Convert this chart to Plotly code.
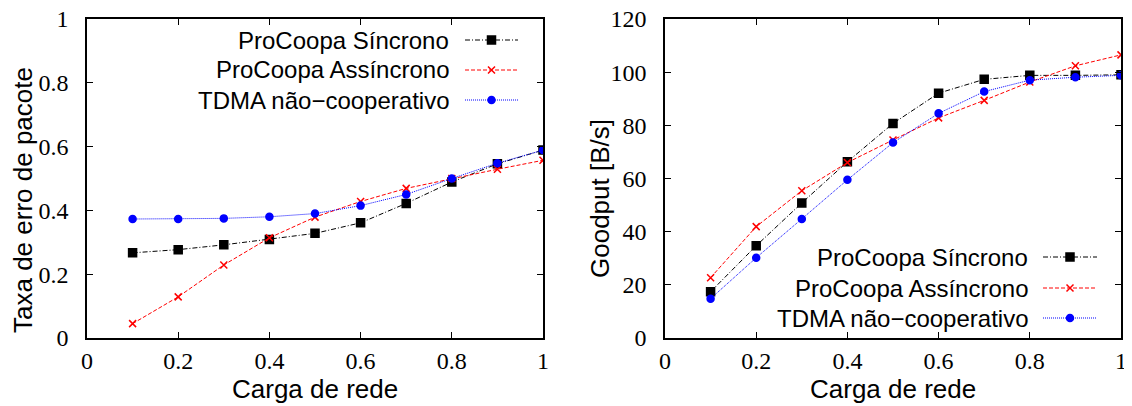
import plotly.graph_objects as go

# ---------------- data ----------------
carga = [0.1, 0.2, 0.3, 0.4, 0.5, 0.6, 0.7, 0.8, 0.9, 1.0]

per_sincrono = [0.267, 0.277, 0.292, 0.309, 0.328, 0.361, 0.422, 0.489, 0.546, 0.589]
per_assincrono = [0.045, 0.129, 0.229, 0.314, 0.379, 0.428, 0.469, 0.500, 0.529, 0.557]
per_tdma = [0.373, 0.373, 0.375, 0.380, 0.390, 0.415, 0.450, 0.500, 0.548, 0.589]

gp_sincrono = [17.4, 34.7, 50.8, 66.3, 80.7, 92.1, 97.3, 98.8, 98.8, 99.0]
gp_assincrono = [22.7, 41.9, 55.4, 66.0, 74.5, 82.8, 89.4, 96.3, 102.4, 106.5]
gp_tdma = [14.8, 30.2, 44.8, 59.5, 73.5, 84.5, 92.7, 97.0, 98.1, 98.8]

series_names = ["ProCoopa Síncrono", "ProCoopa Assíncrono", "TDMA não\u2212cooperativo"]

x_title = "Carga de rede"
y1_title = "Taxa de erro de pacote"
y2_title = "Goodput [B/s]"

x_ticks = [0, 0.2, 0.4, 0.6, 0.8, 1]
x_ticktext = ["0", "0.2", "0.4", "0.6", "0.8", "1"]
y1_ticks = [0, 0.2, 0.4, 0.6, 0.8, 1]
y1_ticktext = ["0", "0.2", "0.4", "0.6", "0.8", "1"]
y2_ticks = [0, 20, 40, 60, 80, 100, 120]
y2_ticktext = ["0", "20", "40", "60", "80", "100", "120"]

# ---------------- styles ----------------
styles = [
    dict(color="#000000", dash="5px,2px,1px,2px", symbol="square", size=8),
    dict(color="#ff0000", dash="4px,2px", symbol="x-thin-open", size=7),
    dict(color="#0000ff", dash="1px,1px", symbol="circle", size=7),
]

# The page body has an 8px margin, so the figure is laid out in page pixels minus 8.
OFF = 8
W, H = 1132 - OFF, 406 - OFF
ML, MT = 87 - OFF, 19 - OFF
MR = W - (1121 - OFF)
MB = H - (338 - OFF)
PW = W - ML - MR
PH = H - MT - MB

def px(x):
    return (x - OFF - ML) / PW

def py(y):
    return (H - MB - (y - OFF)) / PH

fig = go.Figure()

def add_series(xs, ys, st, xa, ya, name):
    fig.add_trace(go.Scatter(
        x=xs, y=ys, mode="lines+markers", name=name, showlegend=False,
        xaxis=xa, yaxis=ya,
        line=dict(color=st["color"], width=1, dash=st["dash"]),
        marker=dict(symbol=st["symbol"], size=st["size"], color=st["color"],
                    line=dict(color=st["color"], width=1.5)),
    ))

left_data = [per_sincrono, per_assincrono, per_tdma]
right_data = [gp_sincrono, gp_assincrono, gp_tdma]
for i in range(3):
    add_series(carga, left_data[i], styles[i], "x", "y", series_names[i])
for i in range(3):
    add_series(carga, right_data[i], styles[i], "x2", "y2", series_names[i])

# ---------------- legend (drawn gnuplot-style: text left of sample) ----------------
# x3/y3 overlay uses page-pixel units over the plotting area
leg_rows_left = [40, 70, 100]
leg_rows_right = [257, 288, 318]
for rows, text_x, x0, x1 in [(leg_rows_left, 451, 465, 518), (leg_rows_right, 1030, 1043, 1097)]:
    for i, yy in enumerate(rows):
        st = styles[i]
        fig.add_trace(go.Scatter(
            x=[x0, x1], y=[yy, yy], mode="lines", xaxis="x3", yaxis="y3",
            showlegend=False, hoverinfo="skip",
            line=dict(color=st["color"], width=1, dash=st["dash"]),
        ))
        fig.add_trace(go.Scatter(
            x=[(x0 + x1) / 2], y=[yy], mode="markers", xaxis="x3", yaxis="y3",
            showlegend=False, hoverinfo="skip",
            marker=dict(symbol=st["symbol"], size=st["size"], color=st["color"],
                        line=dict(color=st["color"], width=1.5)),
        ))
        fig.add_annotation(
            x=px(text_x), y=py(yy), xref="paper", yref="paper", text=series_names[i],
            showarrow=False, xanchor="right", yanchor="middle",
            font=dict(family="Liberation Sans", size=24, color="black"),
        )

tick_font = dict(family="Liberation Serif", size=24, color="black")
title_font = dict(family="Liberation Sans", size=26, color="black")

# axis titles
for (tx, ty, txt, ang) in [(315, 389, x_title, 0), (893, 389, x_title, 0),
                           (23, 200, y1_title, -90), (600, 199, y2_title, -90)]:
    fig.add_annotation(x=px(tx), y=py(ty), xref="paper", yref="paper", text=txt, textangle=ang,
                       showarrow=False, xanchor="center", yanchor="middle", font=title_font)

axis_common = dict(
    showline=True, linecolor="black", linewidth=1.5, mirror="allticks",
    ticks="inside", ticklen=6, tickcolor="black", tickwidth=1,
    showgrid=False, zeroline=False, tickfont=tick_font, automargin=False,
    ticklabeloverflow="allow",
)

fig.update_layout(
    template="none",
    width=W, height=H,
    margin=dict(l=ML, r=MR, t=MT, b=MB, autoexpand=False),
    paper_bgcolor="white", plot_bgcolor="rgba(0,0,0,0)",
    showlegend=False,
    xaxis=dict(domain=[0, (543 - 87) / PW], range=[0, 1], tickvals=x_ticks, ticktext=x_ticktext,
               anchor="y", ticklabelstandoff=0, **axis_common),
    yaxis=dict(domain=[0, 1], range=[0, 1], tickvals=y1_ticks, ticktext=y1_ticktext,
               anchor="x", ticklabelstandoff=12, **axis_common),
    xaxis2=dict(domain=[(665 - 87) / PW, 1], range=[0, 1], tickvals=x_ticks, ticktext=x_ticktext,
                anchor="y2", ticklabelstandoff=0, **axis_common),
    yaxis2=dict(domain=[0, 1], range=[0, 120], tickvals=y2_ticks, ticktext=y2_ticktext,
                anchor="x2", ticklabelstandoff=12, **axis_common),
    xaxis3=dict(domain=[0, 1], range=[87, 1121], visible=False, anchor="y3", fixedrange=True),
    yaxis3=dict(domain=[0, 1], range=[338, 19], visible=False, anchor="x3", fixedrange=True),
)

fig.write_html("out.html")
